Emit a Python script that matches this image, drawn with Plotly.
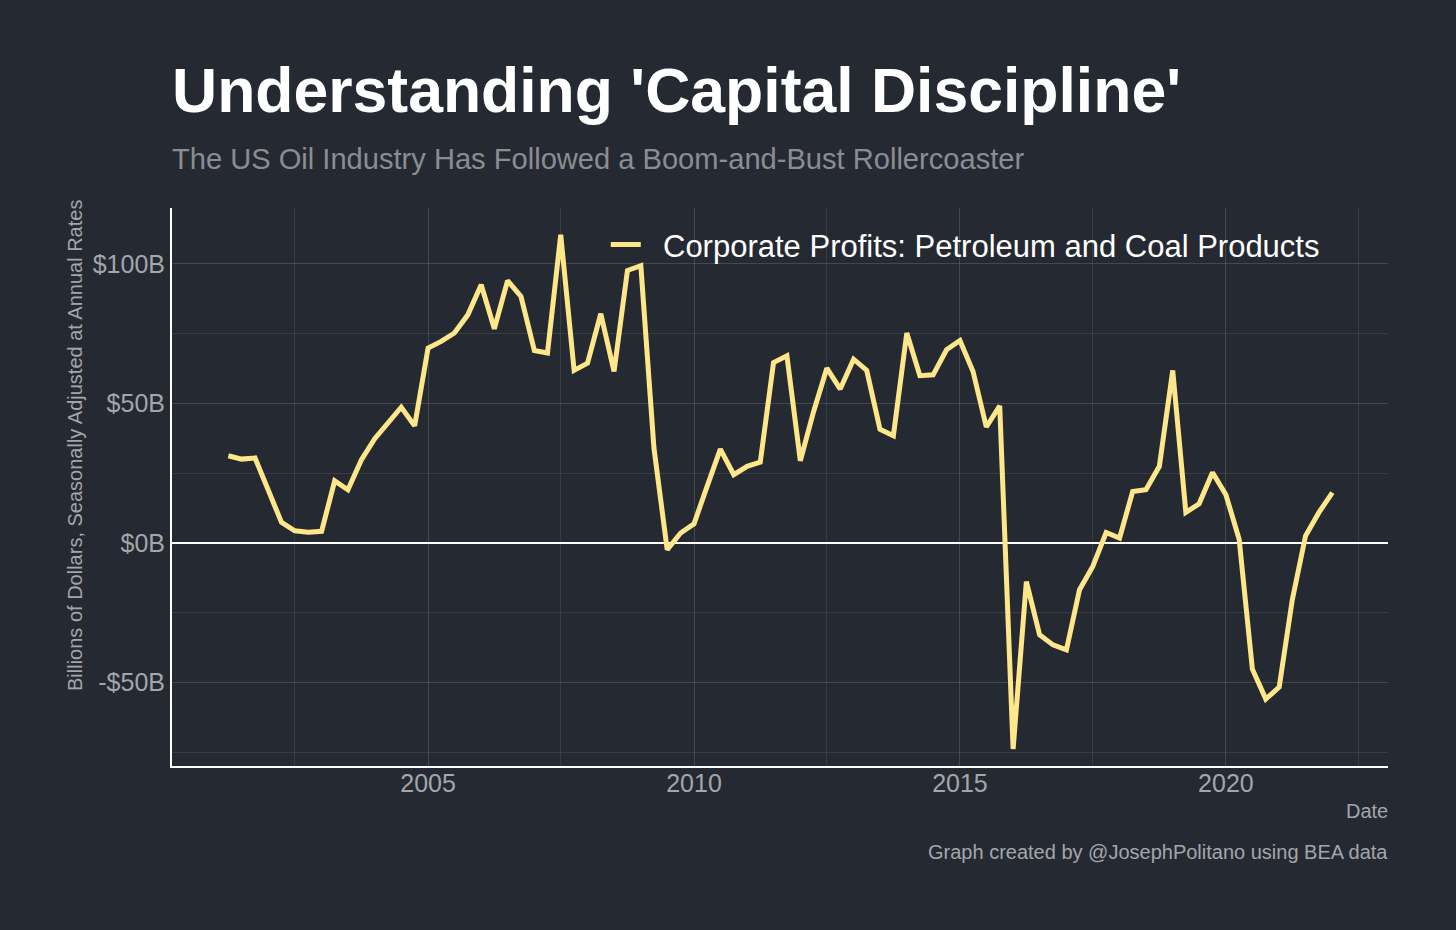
import plotly.graph_objects as go
import pandas as pd

start_quarter = "2001-04-01"
profits = [
    31.2, 30.0, 30.4, 18.5, 7.3, 4.3, 3.8, 4.1, 22.2, 19.0,
    29.7, 37.3, 42.9, 48.6, 41.9, 69.8, 72.2, 75.2, 81.7, 92.5,
    76.7, 94.0, 88.3, 68.9, 68.0, 110.4, 61.8, 64.4, 82.1, 61.4,
    97.6, 99.3, 34.0, -2.5, 3.5, 6.8, 20.2, 33.6, 24.4, 27.4,
    28.9, 64.6, 67.0, 29.4, 47.0, 62.6, 55.1, 65.8, 61.8, 40.7,
    38.4, 75.2, 59.9, 60.2, 69.2, 72.5, 61.4, 41.5, 49.1, -73.9,
    -13.9, -33.0, -36.6, -38.4, -16.8, -8.5, 3.7, 1.7, 18.4, 19.0,
    27.4, 61.8, 10.9, 14.0, 25.2, 17.2, 1.3, -45.3, -56.0, -51.7,
    -20.4, 2.5, 10.9, 18.0,
]
dates = pd.date_range(start_quarter, periods=len(profits), freq="QS")

y_tickvals = [-50, 0, 50, 100]
y_ticktext = ["-$50B", "$0B", "$50B", "$100B"]
series_name = "Corporate Profits: Petroleum and Coal Products"

BG = "#252a32"
GRID = "rgba(255,255,255,0.14)"
MINOR = "rgba(255,255,255,0.09)"
TXT = "#a3a6ab"
FONT = "Liberation Sans, Arial, sans-serif"

fig = go.Figure()
fig.add_trace(go.Scatter(
    x=dates, y=profits, mode="lines", name="\u00a0\u00a0" + series_name,
    line=dict(color="#fee68a", width=5),
))

fig.update_layout(
    width=1456, height=930,
    paper_bgcolor=BG, plot_bgcolor=BG,
    margin=dict(l=172, r=68, t=208, b=164),
    font=dict(family=FONT, color=TXT),
    showlegend=True,
    legend=dict(
        x=0.948, xanchor="right", y=0.934, yanchor="middle",
        bgcolor="rgba(0,0,0,0)", font=dict(size=31, color="#ffffff", family=FONT),
        itemwidth=30,
    ),
    xaxis=dict(
        type="date",
        range=["2000-03-10", "2023-01-18"],
        tick0="2005-01-01", dtick="M60", tickformat="%Y",
        showgrid=True, gridcolor=GRID, gridwidth=1,
        minor=dict(dtick="M30", tick0="2005-01-01", showgrid=True, gridcolor=MINOR, gridwidth=1),
        showline=True, linecolor="#ffffff", linewidth=2,
        ticks="", tickfont=dict(size=25, color=TXT),
        ticklabelstandoff=-6,
        zeroline=False,
    ),
    yaxis=dict(
        range=[-80, 120],
        tickvals=y_tickvals, ticktext=y_ticktext,
        showgrid=True, gridcolor=GRID, gridwidth=1,
        minor=dict(tickvals=[-75, -25, 25, 75], showgrid=True, gridcolor=MINOR, gridwidth=1),
        showline=True, linecolor="#ffffff", linewidth=2,
        zeroline=True, zerolinecolor="#ffffff", zerolinewidth=2,
        ticks="", tickfont=dict(size=25, color=TXT),
    ),
    annotations=[
        dict(text="<b>Understanding 'Capital Discipline'</b>", xref="paper", yref="paper",
             x=0, y=1 + (208 - 90) / 558, xanchor="left", yanchor="middle", showarrow=False,
             xshift=-2, font=dict(size=62.5, color="#ffffff", family=FONT)),
        dict(text="The US Oil Industry Has Followed a Boom-and-Bust Rollercoaster", xref="paper", yref="paper",
             x=0, y=1 + (208 - 159) / 558, xanchor="left", yanchor="middle", showarrow=False,
             xshift=-2, font=dict(size=29.1, color="#8a8d92", family=FONT)),
        dict(text="Billions of Dollars, Seasonally Adjusted at Annual Rates", xref="paper", yref="paper",
             x=(75 - 172) / 1216, y=(766 - 446) / 558, xanchor="center", yanchor="middle",
             textangle=-90, showarrow=False, font=dict(size=20, color=TXT, family=FONT)),
        dict(text="Date", xref="paper", yref="paper",
             x=1, y=-(811 - 766) / 558, xanchor="right", yanchor="middle", showarrow=False,
             xshift=2, font=dict(size=20, color=TXT, family=FONT)),
        dict(text="Graph created by @JosephPolitano using BEA data", xref="paper", yref="paper",
             x=1, y=-(852 - 766) / 558, xanchor="right", yanchor="middle", showarrow=False,
             xshift=2, font=dict(size=20, color=TXT, family=FONT)),
    ],
)

fig.write_html(
    "out.html",
    config={"displayModeBar": False},
    post_script="document.body.style.margin='0';document.body.style.background='%s';" % BG,
)
